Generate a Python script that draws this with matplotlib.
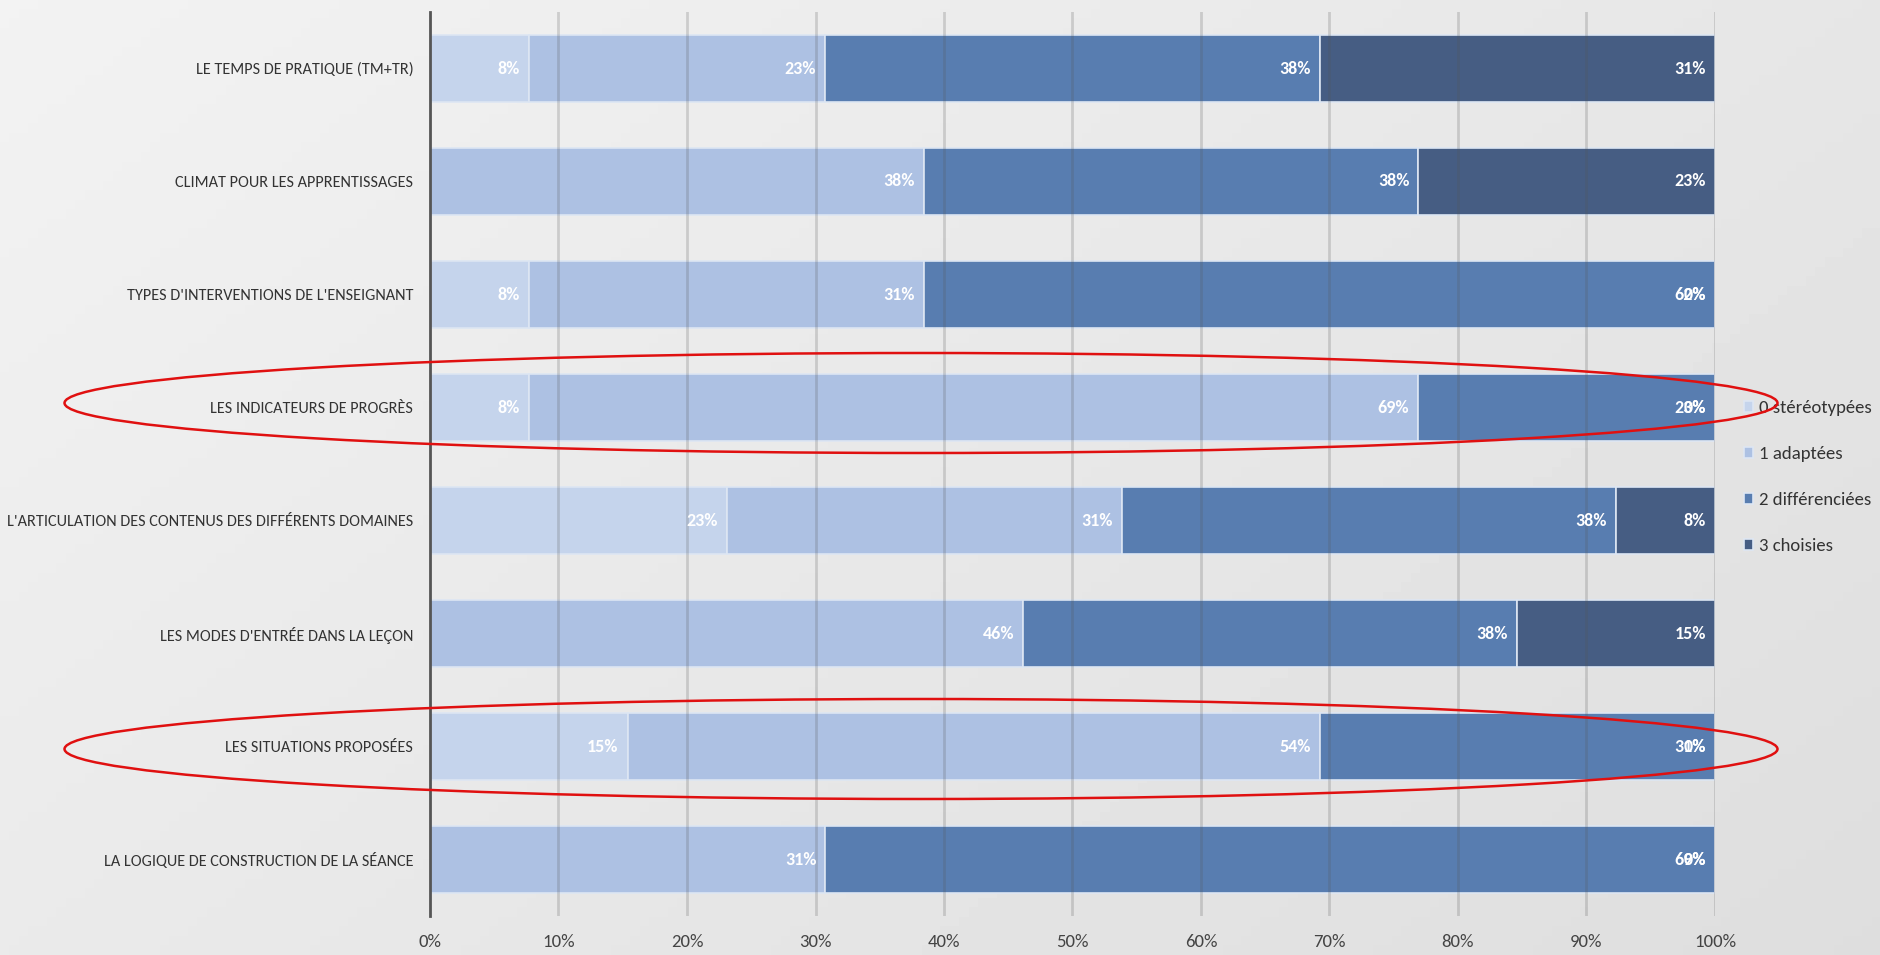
import matplotlib.pyplot as plt
import numpy as np
from matplotlib import font_manager
from matplotlib.patches import Ellipse

# Calibri-like font if there is one, else a plain sans
installed = {f.name for f in font_manager.fontManager.ttflist}
font = next((f for f in ["Carlito", "Liberation Sans Narrow", "Open Sans"] if f in installed), "DejaVu Sans")
plt.rcParams['font.family'] = [font, 'DejaVu Sans']

# categories, top to bottom
categories = [
    "LE TEMPS DE PRATIQUE (TM+TR)",
    "CLIMAT POUR LES APPRENTISSAGES",
    "TYPES D'INTERVENTIONS DE L'ENSEIGNANT",
    "LES INDICATEURS DE PROGRÈS",
    "L'ARTICULATION DES CONTENUS DES DIFFÉRENTS DOMAINES",
    "LES MODES D'ENTRÉE DANS LA LEÇON",
    "LES SITUATIONS PROPOSÉES",
    "LA LOGIQUE DE CONSTRUCTION DE LA SÉANCE",
]

series_names = ["0 stéréotypées", "1 adaptées", "2 différenciées", "3 choisies"]

# counts out of 13 answers (None = no answer in that class)
stereotypees = [1, None, 1, 1, 3, None, 2, None]
adaptees = [3, 5, 4, 9, 4, 6, 7, 4]
differenciees = [5, 5, 8, 3, 5, 5, 4, 9]
choisies = [4, 3, 0, 0, 1, 2, 0, 0]

colors = ["#c5d4ec", "#adc1e3", "#587db0", "#465d83"]

x_ticks = np.arange(0, 1.01, 0.1)
x_tick_labels = [f"{int(round(t * 100))}%" for t in x_ticks]

W, H = 1881, 955
fig = plt.figure(figsize=(W / 100, H / 100), dpi=100)

# grey gradient background
bg = fig.add_axes([0, 0, 1, 1], zorder=-10)
gx, gy = np.meshgrid(np.linspace(0, 1, 200), np.linspace(0, 1, 100))
grad = 0.95 - 0.08 * (0.6 * gx + 0.4 * gy)
bg.imshow(grad, cmap="gray", vmin=0, vmax=1, aspect="auto", extent=[0, 1, 1, 0])
bg.axis("off")

ax = fig.add_axes([430 / W, 1 - 916 / H, 1285 / W, 904 / H])
ax.set_facecolor("none")

data = [stereotypees, adaptees, differenciees, choisies]
n_cat = len(categories)
y = np.arange(n_cat)
totals = np.zeros(n_cat)
for vals in data:
    totals += np.array([v if v is not None else 0 for v in vals], dtype=float)

left = np.zeros(n_cat)
for s, vals in enumerate(data):
    v = np.array([np.nan if a is None else a for a in vals], dtype=float)
    share = np.nan_to_num(v) / totals
    ax.barh(y, share, left=left, height=0.59, color=colors[s], edgecolor="#dde6f3",
            linewidth=1.2, label=series_names[s], zorder=2)
    for i in range(n_cat):
        if np.isnan(v[i]):
            continue
        ax.text(left[i] + share[i] - 0.007, y[i], f"{share[i] * 100:.0f}%",
                ha="right", va="center", color="white", fontsize=13,
                fontweight="bold", zorder=4)
    left += share

ax.set_xlim(0, 1)
ax.set_ylim(n_cat - 0.5, -0.5)
ax.set_yticks(y)
ax.set_yticklabels(categories, fontsize=13, color="#333333")
ax.set_xticks(x_ticks)
ax.set_xticklabels(x_tick_labels, fontsize=13.5, color="#444444")
ax.tick_params(axis="both", length=0)
ax.tick_params(axis="y", pad=12)
ax.tick_params(axis="x", pad=13)
for t in x_ticks[1:]:
    ax.axvline(t, color="#555555", alpha=0.22, linewidth=2, zorder=3)
for side in ["top", "right", "bottom"]:
    ax.spines[side].set_visible(False)
ax.spines["left"].set_color("#555555")
ax.spines["left"].set_linewidth(2)
ax.spines["left"].set_zorder(5)

# shrink the category labels so the longest one fits like in the original (~405 px)
fig.canvas.draw()
r = fig.canvas.get_renderer()
widest = max(t.get_window_extent(r).width for t in ax.get_yticklabels())
ysize = min(14, 13 * 405 / widest)
for t in ax.get_yticklabels():
    t.set_fontsize(ysize)

handles, labels = ax.get_legend_handles_labels()
leg = fig.legend(handles, labels, loc="center left", bbox_to_anchor=(1738 / W, 1 - 477 / H),
                 frameon=False, fontsize=13.5, handlelength=0.5, handleheight=0.5,
                 handletextpad=0.3, labelspacing=1.6, labelcolor="#333333")

# keep the legend inside the picture
fig.canvas.draw()
lw = leg.get_window_extent(fig.canvas.get_renderer())
if lw.x1 > W - 2:
    leg.set_bbox_to_anchor((1 - (lw.x1 - (W - 2) + (W - 1738)) / W, 1 - 477 / H), transform=fig.transFigure)

# red ellipses highlighting two rows
for cy in [403, 749]:
    fig.patches.append(Ellipse((921 / W, 1 - cy / H), 1713 / W, 100 / H,
                               transform=fig.transFigure, fill=False,
                               edgecolor="#e01010", linewidth=1.8, zorder=20))

fig.savefig("out.png", dpi=100)
